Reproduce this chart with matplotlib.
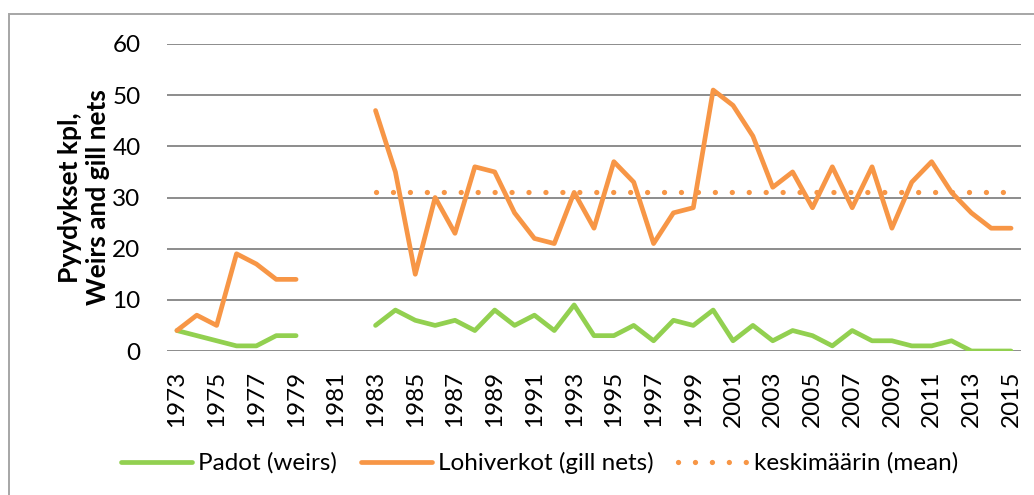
import numpy as np
import matplotlib
matplotlib.use("Agg")
from matplotlib import pyplot as plt
from matplotlib.patches import Rectangle

years = list(range(1973, 2016))

# None = no data for that year
weirs = [4, 3, 2, 1, 1, 3, 3, None, None, None,
         5, 8, 6, 5, 6, 4, 8, 5, 7, 4,
         9, 3, 3, 5, 2, 6, 5, 8, 2, 5,
         2, 4, 3, 1, 4, 2, 2, 1, 1, 2,
         0, 0, 0]
gill_nets = [4, 7, 5, 19, 17, 14, 14, None, None, None,
             47, 35, 15, 30, 23, 36, 35, 27, 22, 21,
             31, 24, 37, 33, 21, 27, 28, 51, 48, 42,
             32, 35, 28, 36, 28, 36, 24, 33, 37, 31,
             27, 24, 24]
mean_value = 31
mean_start = 1983

GREEN = '#92D050'
ORANGE = '#F79646'
GRID = '#8C8C8C'

plt.rcParams['font.family'] = ['Lato', 'DejaVu Sans']


def to_array(values):
    return np.array([np.nan if v is None else v for v in values], dtype=float)


def main():
    fig = plt.figure(figsize=(10.34, 4.95), dpi=100)
    ax = fig.add_axes([167 / 1034, 1 - 351 / 495, (1021 - 167) / 1034, (351 - 44) / 495])

    x = np.arange(len(years))
    ax.plot(x, to_array(weirs), color=GREEN, lw=3.4, solid_joinstyle='round',
            solid_capstyle='round', label='Padot (weirs)', zorder=3)
    ax.plot(x, to_array(gill_nets), color=ORANGE, lw=3.4, solid_joinstyle='round',
            solid_capstyle='round', label='Lohiverkot (gill nets)', zorder=3)
    mean_x = x[years.index(mean_start):]
    ax.plot(mean_x, [mean_value] * len(mean_x), color=ORANGE, lw=3.8,
            linestyle=(0, (0.01, 3.2)), dash_capstyle='round',
            label='keskimäärin (mean)', zorder=2)

    ax.set_xlim(-0.5, len(years) - 0.5)
    ax.set_ylim(0, 60)
    ax.set_yticks(range(0, 61, 10))
    ax.set_xticks(x[::2])
    ax.set_xticklabels([str(y) for y in years[::2]], rotation=90)
    ax.tick_params(axis='both', length=0, labelsize=17.5, colors='black')
    ax.tick_params(axis='y', pad=19)
    ax.tick_params(axis='x', pad=14)
    ax.grid(axis='y', color=GRID, lw=1.4)
    ax.set_axisbelow(True)
    for s in ax.spines.values():
        s.set_visible(False)

    ax.set_ylabel('Pyydykset kpl,\nWeirs and gill nets', fontsize=19,
                  fontweight='bold', labelpad=2, linespacing=1.2)

    fig.legend(loc='center', bbox_to_anchor=(540 / 1034, 1 - 463 / 495), ncol=3,
               frameon=False, fontsize=17.5, handlelength=2.9, columnspacing=1.0,
               handletextpad=0.25)

    fig.patches.append(Rectangle((9 / 1034, -0.1), 1.2, 1 - 14 / 495 + 0.1,
                                 transform=fig.transFigure, fill=False,
                                 edgecolor='#A6A6A6', lw=1.4))

    fig.savefig('out.png', dpi=100)


if __name__ == '__main__':
    main()
